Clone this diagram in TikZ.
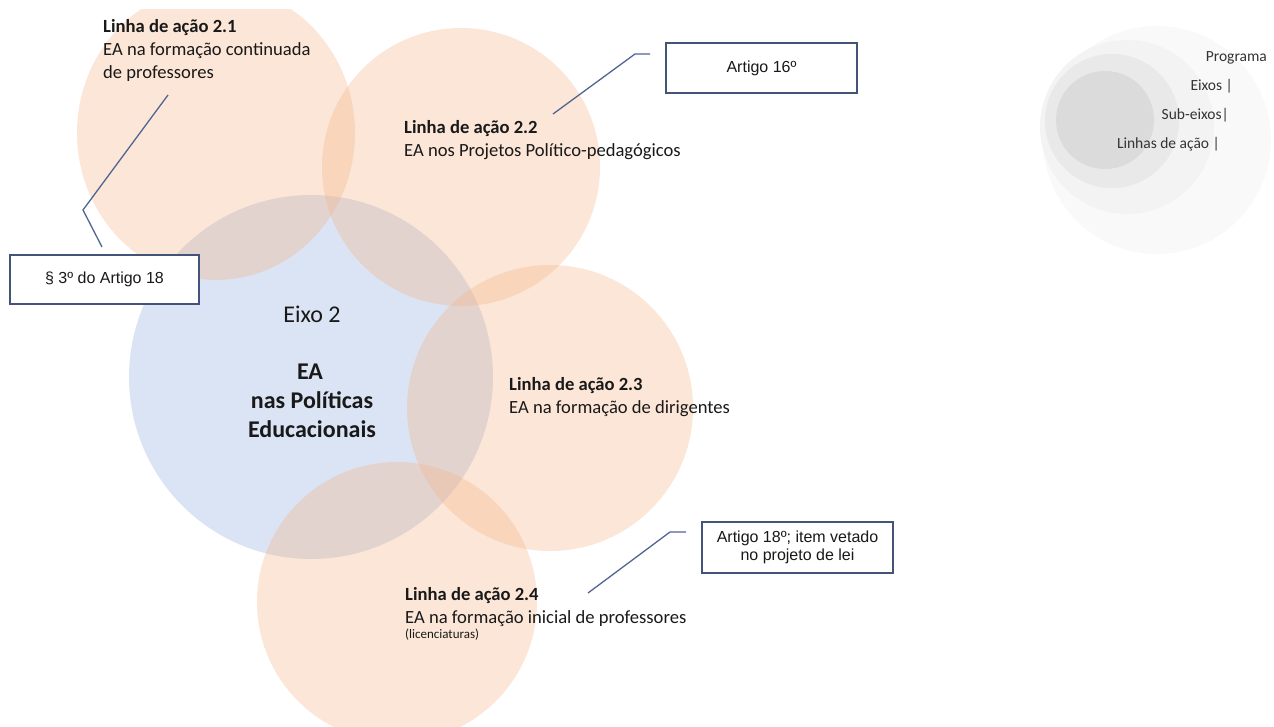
\documentclass[tikz,border=0pt]{standalone}
\usepackage{fontspec}
\setmainfont{Carlito}
\newfontfamily\arialf{Liberation Sans}
\definecolor{peach}{RGB}{244,177,131}
\definecolor{bluec}{RGB}{143,170,220}
\definecolor{boxc}{RGB}{68,84,120}
\definecolor{linec}{RGB}{79,101,146}
\definecolor{txt}{RGB}{25,25,25}
\definecolor{lg1}{RGB}{249,249,249}
\definecolor{lg2}{RGB}{243,243,243}
\definecolor{lg3}{RGB}{233,233,233}
\definecolor{lg4}{RGB}{219,219,219}
\tikzset{
  pcirc/.style={fill=peach, fill opacity=0.32},
  bcirc/.style={fill=bluec, fill opacity=0.32},
  refbox/.style={draw=boxc, line width=1.3pt, fill=white, inner sep=0pt,
    font=\arialf\fontsize{16}{18.4}\selectfont, text=txt, align=center},
  conn/.style={draw=linec, line width=1.3pt},
  lt/.style={anchor=base west, inner sep=0pt, font=\fontsize{18.6}{22}\selectfont, text=txt},
  ltb/.style={lt, font=\fontsize{18.6}{22}\selectfont\bfseries},
  lsmall/.style={anchor=base west, inner sep=0pt, font=\fontsize{13}{15}\selectfont, text=txt},
  axis/.style={anchor=base, inner sep=0pt, font=\fontsize{24}{29}\selectfont, text=txt},
  axisb/.style={axis, font=\fontsize{24}{29}\selectfont\bfseries},
  legend/.style={anchor=base east, inner sep=0pt, font=\fontsize{15.5}{18}\selectfont, text=black!80}
}
\begin{document}
\begin{tikzpicture}[x=1pt,y=-1pt]
\useasboundingbox (0,0) rectangle (1274,727);
% legend circles
\fill[lg1] (1157,140) circle (114);
\fill[lg2] (1127,127) circle (87);
\fill[lg3] (1112,121) circle (67);
\fill[lg4] (1105,120) circle (49);
\node[legend] (lp) at (1267,62) {Programa};
\node[legend] (le) at (1233,91) {Eixos |};
\node[legend] (ls) at (1229,120) {Sub-eixos|};
\node[legend] (ll) at (1220,149) {Linhas de ação |};
% main circles
\begin{scope}
\clip (0,10) rectangle (1274,727);
\fill[bcirc] (311,377) circle (182);
\fill[pcirc] (216,133) ellipse [x radius=139, y radius=147];
\fill[pcirc] (461,167) circle (139);
\fill[pcirc] (550,408) circle (143);
\fill[pcirc] (397,602) circle (140);
\end{scope}
% texts
\node[ltb] (l21a) at (103,33) {Linha de ação 2.1};
\node[lt]  (l21b) at (103,56) {EA na formação continuada};
\node[lt]  (l21c) at (103,79) {de professores};
\node[ltb] (l22a) at (404,134) {Linha de ação 2.2};
\node[lt]  (l22b) at (404,157) {EA nos Projetos Político-pedagógicos};
\node[ltb] (l23a) at (509,390) {Linha de ação 2.3};
\node[lt]  (l23b) at (509,413) {EA na formação de dirigentes};
\node[ltb] (l24a) at (405,600) {Linha de ação 2.4};
\node[lt]  (l24b) at (405,623) {EA na formação inicial de professores};
\node[lsmall] (l24c) at (405,638) {(licenciaturas)};
\node[axis]  (e2)  at (312,322) {Eixo 2};
\node[axisb] (e2a) at (310,379) {EA};
\node[axisb] (e2b) at (312,408) {nas Políticas};
\node[axisb] (e2c) at (312,437) {Educacionais};
% boxes
\node[refbox, minimum width=189pt, minimum height=49pt] (box1) at (104.5,279.5) {§ 3º do Artigo 18};
\node[refbox, minimum width=191pt, minimum height=50pt] (box2) at (761.5,68) {Artigo 16º};
\node[refbox, minimum width=191pt, minimum height=51pt] (box3) at (797.5,547.5) {Artigo 18º; item vetado\\no projeto de lei};
% connectors
\coordinate (c1a) at (168,95);
\coordinate (c1b) at (83,210);
\coordinate (c1c) at (102,247);
\draw[conn] (c1a) -- (c1b) -- (c1c);
\coordinate (c2a) at (553,114);
\coordinate (c2b) at (635,54);
\coordinate (c2c) at (650,54);
\draw[conn] (c2a) -- (c2b) -- (c2c);
\coordinate (c3a) at (588,593);
\coordinate (c3b) at (670,532);
\coordinate (c3c) at (686,532);
\draw[conn] (c3a) -- (c3b) -- (c3c);
\end{tikzpicture}
\end{document}
